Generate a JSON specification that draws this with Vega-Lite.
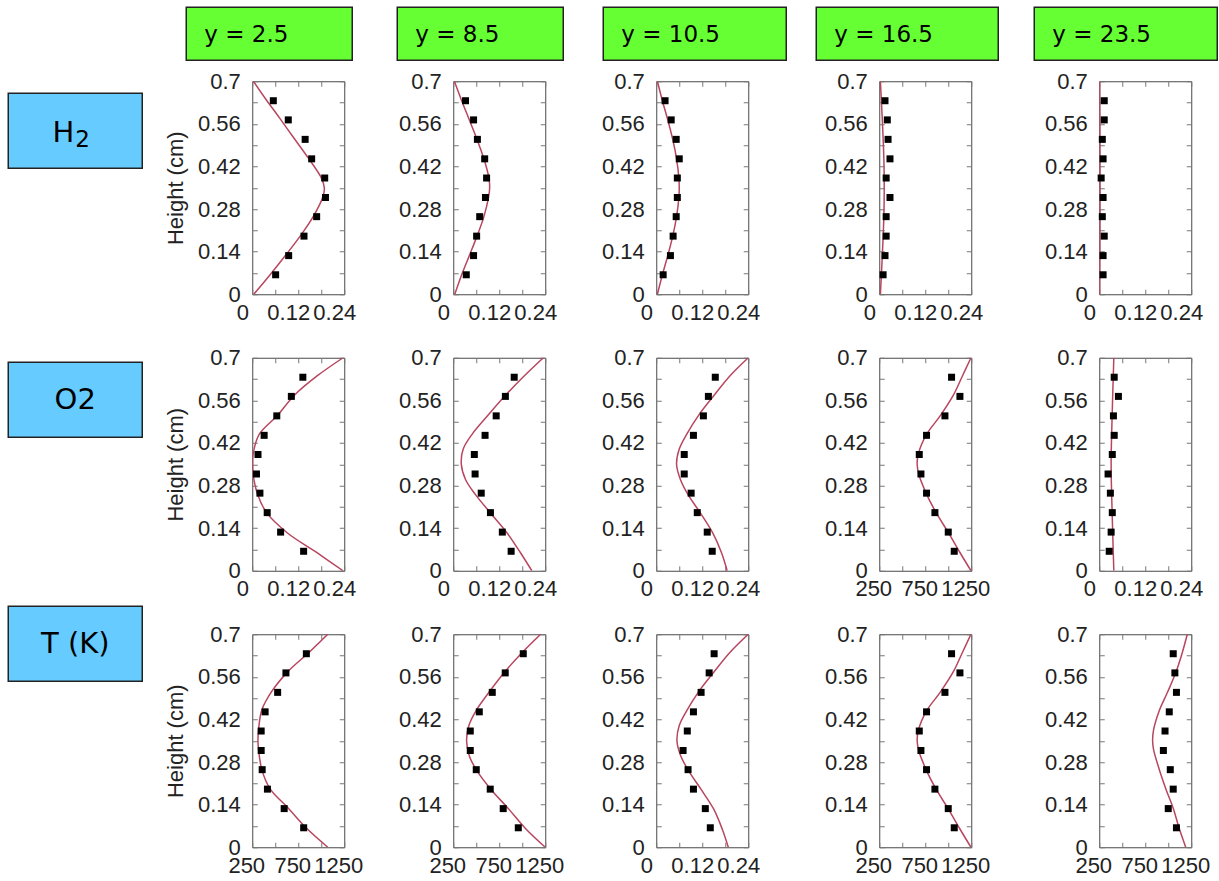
{
  "$schema": "https://vega.github.io/schema/vega-lite/v6.json",
  "padding": {"left": 7.25, "top": 6.25, "right": 0, "bottom": 0},
  "background": "white",
  "columns": 2,
  "align": "each",
  "bounds": "full",
  "spacing": 7,
  "datasets": {
    "sim": [
      {"p":"H2-2.5","h":0,"v":0.004},{"p":"H2-2.5","h":0.06,"v":0.044},{"p":"H2-2.5","h":0.128,"v":0.087},{"p":"H2-2.5","h":0.191,"v":0.125},{"p":"H2-2.5","h":0.255,"v":0.159},{"p":"H2-2.5","h":0.323,"v":0.185},{"p":"H2-2.5","h":0.35,"v":0.188},{"p":"H2-2.5","h":0.383,"v":0.18},{"p":"H2-2.5","h":0.448,"v":0.146},{"p":"H2-2.5","h":0.511,"v":0.11},{"p":"H2-2.5","h":0.578,"v":0.072},{"p":"H2-2.5","h":0.64,"v":0.036},{"p":"H2-2.5","h":0.7,"v":0.003},
      {"p":"H2-8.5","h":0,"v":0.004},{"p":"H2-8.5","h":0.064,"v":0.022},{"p":"H2-8.5","h":0.127,"v":0.042},{"p":"H2-8.5","h":0.191,"v":0.062},{"p":"H2-8.5","h":0.255,"v":0.08},{"p":"H2-8.5","h":0.318,"v":0.092},{"p":"H2-8.5","h":0.35,"v":0.095},{"p":"H2-8.5","h":0.382,"v":0.093},{"p":"H2-8.5","h":0.445,"v":0.08},{"p":"H2-8.5","h":0.509,"v":0.062},{"p":"H2-8.5","h":0.573,"v":0.042},{"p":"H2-8.5","h":0.636,"v":0.022},{"p":"H2-8.5","h":0.7,"v":0.003},
      {"p":"H2-10.5","h":0,"v":0.003},{"p":"H2-10.5","h":0.064,"v":0.016},{"p":"H2-10.5","h":0.127,"v":0.03},{"p":"H2-10.5","h":0.191,"v":0.043},{"p":"H2-10.5","h":0.255,"v":0.053},{"p":"H2-10.5","h":0.318,"v":0.059},{"p":"H2-10.5","h":0.35,"v":0.06},{"p":"H2-10.5","h":0.382,"v":0.059},{"p":"H2-10.5","h":0.445,"v":0.053},{"p":"H2-10.5","h":0.509,"v":0.043},{"p":"H2-10.5","h":0.573,"v":0.03},{"p":"H2-10.5","h":0.636,"v":0.016},{"p":"H2-10.5","h":0.7,"v":0.003},
      {"p":"H2-16.5","h":0,"v":0.003},{"p":"H2-16.5","h":0.127,"v":0.008},{"p":"H2-16.5","h":0.255,"v":0.012},{"p":"H2-16.5","h":0.35,"v":0.013},{"p":"H2-16.5","h":0.445,"v":0.012},{"p":"H2-16.5","h":0.573,"v":0.008},{"p":"H2-16.5","h":0.7,"v":0.003},
      {"p":"H2-23.5","h":0,"v":0.001},{"p":"H2-23.5","h":0.35,"v":0.002},{"p":"H2-23.5","h":0.7,"v":0.001},
      {"p":"O2-2.5","h":0,"v":0.237},{"p":"O2-2.5","h":0.06,"v":0.168},{"p":"O2-2.5","h":0.125,"v":0.091},{"p":"O2-2.5","h":0.19,"v":0.038},{"p":"O2-2.5","h":0.255,"v":0.013},{"p":"O2-2.5","h":0.32,"v":0.002},{"p":"O2-2.5","h":0.35,"v":0.001},{"p":"O2-2.5","h":0.382,"v":0.002},{"p":"O2-2.5","h":0.448,"v":0.018},{"p":"O2-2.5","h":0.511,"v":0.066},{"p":"O2-2.5","h":0.577,"v":0.11},{"p":"O2-2.5","h":0.641,"v":0.17},{"p":"O2-2.5","h":0.7,"v":0.237},
      {"p":"O2-8.5","h":0,"v":0.205},{"p":"O2-8.5","h":0.06,"v":0.175},{"p":"O2-8.5","h":0.125,"v":0.14},{"p":"O2-8.5","h":0.19,"v":0.097},{"p":"O2-8.5","h":0.25,"v":0.058},{"p":"O2-8.5","h":0.3,"v":0.032},{"p":"O2-8.5","h":0.35,"v":0.021},{"p":"O2-8.5","h":0.4,"v":0.026},{"p":"O2-8.5","h":0.45,"v":0.05},{"p":"O2-8.5","h":0.51,"v":0.09},{"p":"O2-8.5","h":0.575,"v":0.135},{"p":"O2-8.5","h":0.64,"v":0.185},{"p":"O2-8.5","h":0.7,"v":0.235},
      {"p":"O2-10.5","h":0,"v":0.185},{"p":"O2-10.5","h":0.06,"v":0.17},{"p":"O2-10.5","h":0.125,"v":0.147},{"p":"O2-10.5","h":0.19,"v":0.115},{"p":"O2-10.5","h":0.25,"v":0.083},{"p":"O2-10.5","h":0.3,"v":0.063},{"p":"O2-10.5","h":0.35,"v":0.053},{"p":"O2-10.5","h":0.4,"v":0.06},{"p":"O2-10.5","h":0.45,"v":0.08},{"p":"O2-10.5","h":0.51,"v":0.11},{"p":"O2-10.5","h":0.575,"v":0.15},{"p":"O2-10.5","h":0.64,"v":0.192},{"p":"O2-10.5","h":0.7,"v":0.24},
      {"p":"O2-16.5","h":0,"v":1247},{"p":"O2-16.5","h":0.06,"v":1127},{"p":"O2-16.5","h":0.126,"v":1000},{"p":"O2-16.5","h":0.19,"v":870},{"p":"O2-16.5","h":0.252,"v":764},{"p":"O2-16.5","h":0.317,"v":680},{"p":"O2-16.5","h":0.35,"v":662},{"p":"O2-16.5","h":0.383,"v":674},{"p":"O2-16.5","h":0.448,"v":764},{"p":"O2-16.5","h":0.508,"v":910},{"p":"O2-16.5","h":0.576,"v":1054},{"p":"O2-16.5","h":0.64,"v":1154},{"p":"O2-16.5","h":0.7,"v":1247},
      {"p":"O2-23.5","h":0,"v":0.038},{"p":"O2-23.5","h":0.175,"v":0.034},{"p":"O2-23.5","h":0.35,"v":0.031},{"p":"O2-23.5","h":0.525,"v":0.034},{"p":"O2-23.5","h":0.7,"v":0.038},
      {"p":"T-2.5","h":0,"v":1071},{"p":"T-2.5","h":0.063,"v":838},{"p":"T-2.5","h":0.129,"v":640},{"p":"T-2.5","h":0.192,"v":444},{"p":"T-2.5","h":0.255,"v":354},{"p":"T-2.5","h":0.323,"v":318},{"p":"T-2.5","h":0.35,"v":312},{"p":"T-2.5","h":0.385,"v":318},{"p":"T-2.5","h":0.451,"v":354},{"p":"T-2.5","h":0.512,"v":462},{"p":"T-2.5","h":0.578,"v":640},{"p":"T-2.5","h":0.64,"v":866},{"p":"T-2.5","h":0.7,"v":1071},
      {"p":"T-8.5","h":0,"v":1250},{"p":"T-8.5","h":0.06,"v":1040},{"p":"T-8.5","h":0.13,"v":840},{"p":"T-8.5","h":0.19,"v":660},{"p":"T-8.5","h":0.25,"v":510},{"p":"T-8.5","h":0.3,"v":425},{"p":"T-8.5","h":0.35,"v":395},{"p":"T-8.5","h":0.4,"v":420},{"p":"T-8.5","h":0.45,"v":500},{"p":"T-8.5","h":0.51,"v":640},{"p":"T-8.5","h":0.58,"v":820},{"p":"T-8.5","h":0.64,"v":1000},{"p":"T-8.5","h":0.7,"v":1200},
      {"p":"T-10.5","h":0,"v":0.188},{"p":"T-10.5","h":0.06,"v":0.172},{"p":"T-10.5","h":0.125,"v":0.15},{"p":"T-10.5","h":0.19,"v":0.117},{"p":"T-10.5","h":0.25,"v":0.085},{"p":"T-10.5","h":0.3,"v":0.064},{"p":"T-10.5","h":0.35,"v":0.054},{"p":"T-10.5","h":0.4,"v":0.06},{"p":"T-10.5","h":0.45,"v":0.08},{"p":"T-10.5","h":0.51,"v":0.11},{"p":"T-10.5","h":0.575,"v":0.15},{"p":"T-10.5","h":0.64,"v":0.192},{"p":"T-10.5","h":0.7,"v":0.24},
      {"p":"T-16.5","h":0,"v":1247},{"p":"T-16.5","h":0.06,"v":1127},{"p":"T-16.5","h":0.126,"v":1000},{"p":"T-16.5","h":0.19,"v":870},{"p":"T-16.5","h":0.252,"v":764},{"p":"T-16.5","h":0.317,"v":680},{"p":"T-16.5","h":0.35,"v":662},{"p":"T-16.5","h":0.383,"v":674},{"p":"T-16.5","h":0.448,"v":764},{"p":"T-16.5","h":0.508,"v":910},{"p":"T-16.5","h":0.576,"v":1054},{"p":"T-16.5","h":0.64,"v":1154},{"p":"T-16.5","h":0.7,"v":1247},
      {"p":"T-23.5","h":0,"v":1190},{"p":"T-23.5","h":0.063,"v":1118},{"p":"T-23.5","h":0.128,"v":1054},{"p":"T-23.5","h":0.191,"v":975},{"p":"T-23.5","h":0.254,"v":904},{"p":"T-23.5","h":0.322,"v":840},{"p":"T-23.5","h":0.35,"v":830},{"p":"T-23.5","h":0.385,"v":840},{"p":"T-23.5","h":0.45,"v":904},{"p":"T-23.5","h":0.51,"v":993},{"p":"T-23.5","h":0.575,"v":1083},{"p":"T-23.5","h":0.637,"v":1150},{"p":"T-23.5","h":0.7,"v":1207}
    ],
    "exp": [
      {"p":"H2-2.5","h":0.064,"v":0.061},{"p":"H2-2.5","h":0.127,"v":0.095},{"p":"H2-2.5","h":0.191,"v":0.135},{"p":"H2-2.5","h":0.255,"v":0.168},{"p":"H2-2.5","h":0.318,"v":0.191},{"p":"H2-2.5","h":0.382,"v":0.189},{"p":"H2-2.5","h":0.445,"v":0.155},{"p":"H2-2.5","h":0.509,"v":0.138},{"p":"H2-2.5","h":0.573,"v":0.094},{"p":"H2-2.5","h":0.636,"v":0.055},
      {"p":"H2-8.5","h":0.064,"v":0.034},{"p":"H2-8.5","h":0.127,"v":0.053},{"p":"H2-8.5","h":0.191,"v":0.061},{"p":"H2-8.5","h":0.255,"v":0.069},{"p":"H2-8.5","h":0.318,"v":0.084},{"p":"H2-8.5","h":0.382,"v":0.087},{"p":"H2-8.5","h":0.445,"v":0.082},{"p":"H2-8.5","h":0.509,"v":0.063},{"p":"H2-8.5","h":0.573,"v":0.053},{"p":"H2-8.5","h":0.636,"v":0.032},
      {"p":"H2-10.5","h":0.064,"v":0.018},{"p":"H2-10.5","h":0.127,"v":0.037},{"p":"H2-10.5","h":0.191,"v":0.044},{"p":"H2-10.5","h":0.255,"v":0.052},{"p":"H2-10.5","h":0.318,"v":0.055},{"p":"H2-10.5","h":0.382,"v":0.055},{"p":"H2-10.5","h":0.445,"v":0.06},{"p":"H2-10.5","h":0.509,"v":0.052},{"p":"H2-10.5","h":0.573,"v":0.039},{"p":"H2-10.5","h":0.636,"v":0.023},
      {"p":"H2-16.5","h":0.064,"v":0.01},{"p":"H2-16.5","h":0.127,"v":0.015},{"p":"H2-16.5","h":0.191,"v":0.018},{"p":"H2-16.5","h":0.255,"v":0.018},{"p":"H2-16.5","h":0.318,"v":0.028},{"p":"H2-16.5","h":0.382,"v":0.018},{"p":"H2-16.5","h":0.445,"v":0.028},{"p":"H2-16.5","h":0.509,"v":0.023},{"p":"H2-16.5","h":0.573,"v":0.021},{"p":"H2-16.5","h":0.636,"v":0.015},
      {"p":"H2-23.5","h":0.064,"v":0.01},{"p":"H2-23.5","h":0.127,"v":0.01},{"p":"H2-23.5","h":0.191,"v":0.013},{"p":"H2-23.5","h":0.255,"v":0.008},{"p":"H2-23.5","h":0.318,"v":0.01},{"p":"H2-23.5","h":0.382,"v":0.005},{"p":"H2-23.5","h":0.445,"v":0.01},{"p":"H2-23.5","h":0.509,"v":0.008},{"p":"H2-23.5","h":0.573,"v":0.013},{"p":"H2-23.5","h":0.636,"v":0.013},
      {"p":"O2-2.5","h":0.064,"v":0.134},{"p":"O2-2.5","h":0.127,"v":0.074},{"p":"O2-2.5","h":0.191,"v":0.039},{"p":"O2-2.5","h":0.255,"v":0.02},{"p":"O2-2.5","h":0.318,"v":0.011},{"p":"O2-2.5","h":0.382,"v":0.015},{"p":"O2-2.5","h":0.445,"v":0.031},{"p":"O2-2.5","h":0.509,"v":0.064},{"p":"O2-2.5","h":0.573,"v":0.102},{"p":"O2-2.5","h":0.636,"v":0.132},
      {"p":"O2-8.5","h":0.064,"v":0.151},{"p":"O2-8.5","h":0.127,"v":0.128},{"p":"O2-8.5","h":0.191,"v":0.097},{"p":"O2-8.5","h":0.255,"v":0.073},{"p":"O2-8.5","h":0.318,"v":0.057},{"p":"O2-8.5","h":0.382,"v":0.055},{"p":"O2-8.5","h":0.445,"v":0.083},{"p":"O2-8.5","h":0.509,"v":0.112},{"p":"O2-8.5","h":0.573,"v":0.136},{"p":"O2-8.5","h":0.636,"v":0.159},
      {"p":"O2-10.5","h":0.064,"v":0.146},{"p":"O2-10.5","h":0.127,"v":0.133},{"p":"O2-10.5","h":0.191,"v":0.107},{"p":"O2-10.5","h":0.255,"v":0.091},{"p":"O2-10.5","h":0.318,"v":0.073},{"p":"O2-10.5","h":0.382,"v":0.073},{"p":"O2-10.5","h":0.445,"v":0.097},{"p":"O2-10.5","h":0.509,"v":0.123},{"p":"O2-10.5","h":0.573,"v":0.136},{"p":"O2-10.5","h":0.636,"v":0.154},
      {"p":"O2-16.5","h":0.064,"v":1065},{"p":"O2-16.5","h":0.127,"v":1000},{"p":"O2-16.5","h":0.191,"v":855},{"p":"O2-16.5","h":0.255,"v":764},{"p":"O2-16.5","h":0.318,"v":703},{"p":"O2-16.5","h":0.382,"v":685},{"p":"O2-16.5","h":0.445,"v":764},{"p":"O2-16.5","h":0.509,"v":964},{"p":"O2-16.5","h":0.573,"v":1127},{"p":"O2-16.5","h":0.636,"v":1036},
      {"p":"O2-23.5","h":0.064,"v":0.026},{"p":"O2-23.5","h":0.127,"v":0.031},{"p":"O2-23.5","h":0.191,"v":0.034},{"p":"O2-23.5","h":0.255,"v":0.029},{"p":"O2-23.5","h":0.318,"v":0.023},{"p":"O2-23.5","h":0.382,"v":0.034},{"p":"O2-23.5","h":0.445,"v":0.039},{"p":"O2-23.5","h":0.509,"v":0.037},{"p":"O2-23.5","h":0.573,"v":0.05},{"p":"O2-23.5","h":0.636,"v":0.039},
      {"p":"T-2.5","h":0.064,"v":809},{"p":"T-2.5","h":0.127,"v":597},{"p":"T-2.5","h":0.191,"v":415},{"p":"T-2.5","h":0.255,"v":358},{"p":"T-2.5","h":0.318,"v":347},{"p":"T-2.5","h":0.382,"v":347},{"p":"T-2.5","h":0.445,"v":390},{"p":"T-2.5","h":0.509,"v":526},{"p":"T-2.5","h":0.573,"v":616},{"p":"T-2.5","h":0.636,"v":838},
      {"p":"T-8.5","h":0.064,"v":957},{"p":"T-8.5","h":0.127,"v":793},{"p":"T-8.5","h":0.191,"v":652},{"p":"T-8.5","h":0.255,"v":500},{"p":"T-8.5","h":0.318,"v":435},{"p":"T-8.5","h":0.382,"v":435},{"p":"T-8.5","h":0.445,"v":533},{"p":"T-8.5","h":0.509,"v":674},{"p":"T-8.5","h":0.573,"v":815},{"p":"T-8.5","h":0.636,"v":1011},
      {"p":"T-10.5","h":0.064,"v":0.141},{"p":"T-10.5","h":0.127,"v":0.128},{"p":"T-10.5","h":0.191,"v":0.097},{"p":"T-10.5","h":0.255,"v":0.083},{"p":"T-10.5","h":0.318,"v":0.07},{"p":"T-10.5","h":0.382,"v":0.081},{"p":"T-10.5","h":0.445,"v":0.097},{"p":"T-10.5","h":0.509,"v":0.117},{"p":"T-10.5","h":0.573,"v":0.138},{"p":"T-10.5","h":0.636,"v":0.151},
      {"p":"T-16.5","h":0.064,"v":1065},{"p":"T-16.5","h":0.127,"v":1000},{"p":"T-16.5","h":0.191,"v":855},{"p":"T-16.5","h":0.255,"v":764},{"p":"T-16.5","h":0.318,"v":703},{"p":"T-16.5","h":0.382,"v":685},{"p":"T-16.5","h":0.445,"v":764},{"p":"T-16.5","h":0.509,"v":964},{"p":"T-16.5","h":0.573,"v":1127},{"p":"T-16.5","h":0.636,"v":1036},
      {"p":"T-23.5","h":0.064,"v":1089},{"p":"T-23.5","h":0.127,"v":1000},{"p":"T-23.5","h":0.191,"v":1054},{"p":"T-23.5","h":0.255,"v":1022},{"p":"T-23.5","h":0.318,"v":947},{"p":"T-23.5","h":0.382,"v":965},{"p":"T-23.5","h":0.445,"v":1011},{"p":"T-23.5","h":0.509,"v":1089},{"p":"T-23.5","h":0.573,"v":1072},{"p":"T-23.5","h":0.636,"v":1054}
    ]
  },
  "concat": [
    {
      "columns": 1, "align": "each", "bounds": "flush", "spacing": 0,
      "concat": [
        {"width":1,"height":86,"data":{"values":[]},"mark":"text","view":{"stroke":null}},
        {"width":134,"height":75,"view":{"fill":"#66ccff","stroke":"#222","strokeWidth":1.5},"data":{"values":[{"a":"H","b":"2"}]},"layer":[{"mark":{"type":"text","font":"DejaVu Sans","fontSize":29,"align":"right","baseline":"alphabetic","dx":-1,"dy":11,"color":"#000"},"encoding":{"text":{"field":"a"}}},{"mark":{"type":"text","font":"DejaVu Sans","fontSize":23,"align":"left","baseline":"alphabetic","dx":0,"dy":16,"color":"#000"},"encoding":{"text":{"field":"b"}}}]},
        {"width":1,"height":194,"data":{"values":[]},"mark":"text","view":{"stroke":null}},
        {"width":134,"height":75,"view":{"fill":"#66ccff","stroke":"#222","strokeWidth":1.5},"data":{"values":[{"t":"O2"}]},"mark":{"type":"text","font":"DejaVu Sans","fontSize":29,"baseline":"middle","color":"#000"},"encoding":{"text":{"field":"t"}}},
        {"width":1,"height":169,"data":{"values":[]},"mark":"text","view":{"stroke":null}},
        {"width":134,"height":75,"view":{"fill":"#66ccff","stroke":"#222","strokeWidth":1.5},"data":{"values":[{"t":"T (K)"}]},"mark":{"type":"text","font":"DejaVu Sans","fontSize":29,"baseline":"middle","color":"#000"},"encoding":{"text":{"field":"t"}}}
      ]
    },
    {
      "columns": 1, "align": "each", "bounds": "full", "spacing": 8,
      "concat": [
        {
          "columns": 10, "align": "each", "bounds": "flush", "spacing": 0,
          "concat": [
            {"width":36,"height":1,"data":{"values":[]},"mark":"text","view":{"stroke":null}},
            {"width":166,"height":53,"view":{"fill":"#66ff33","stroke":"#222","strokeWidth":1.5},"data":{"values":[{"t":"y = 2.5"}]},"mark":{"type":"text","font":"DejaVu Sans","fontSize":23,"align":"left","baseline":"middle","dx":18,"dy":1,"color":"#000"},"encoding":{"text":{"field":"t"},"x":{"datum":0,"type":"quantitative","scale":{"domain":[0,1]},"axis":null}}},
            {"width":45,"height":1,"data":{"values":[]},"mark":"text","view":{"stroke":null}},
            {"width":166,"height":53,"view":{"fill":"#66ff33","stroke":"#222","strokeWidth":1.5},"data":{"values":[{"t":"y = 8.5"}]},"mark":{"type":"text","font":"DejaVu Sans","fontSize":23,"align":"left","baseline":"middle","dx":18,"dy":1,"color":"#000"},"encoding":{"text":{"field":"t"},"x":{"datum":0,"type":"quantitative","scale":{"domain":[0,1]},"axis":null}}},
            {"width":40,"height":1,"data":{"values":[]},"mark":"text","view":{"stroke":null}},
            {"width":183,"height":53,"view":{"fill":"#66ff33","stroke":"#222","strokeWidth":1.5},"data":{"values":[{"t":"y = 10.5"}]},"mark":{"type":"text","font":"DejaVu Sans","fontSize":23,"align":"left","baseline":"middle","dx":18,"dy":1,"color":"#000"},"encoding":{"text":{"field":"t"},"x":{"datum":0,"type":"quantitative","scale":{"domain":[0,1]},"axis":null}}},
            {"width":30,"height":1,"data":{"values":[]},"mark":"text","view":{"stroke":null}},
            {"width":182,"height":53,"view":{"fill":"#66ff33","stroke":"#222","strokeWidth":1.5},"data":{"values":[{"t":"y = 16.5"}]},"mark":{"type":"text","font":"DejaVu Sans","fontSize":23,"align":"left","baseline":"middle","dx":18,"dy":1,"color":"#000"},"encoding":{"text":{"field":"t"},"x":{"datum":0,"type":"quantitative","scale":{"domain":[0,1]},"axis":null}}},
            {"width":36,"height":1,"data":{"values":[]},"mark":"text","view":{"stroke":null}},
            {"width":183,"height":53,"view":{"fill":"#66ff33","stroke":"#222","strokeWidth":1.5},"data":{"values":[{"t":"y = 23.5"}]},"mark":{"type":"text","font":"DejaVu Sans","fontSize":23,"align":"left","baseline":"middle","dx":18,"dy":1,"color":"#000"},"encoding":{"text":{"field":"t"},"x":{"datum":0,"type":"quantitative","scale":{"domain":[0,1]},"axis":null}}}
          ]
        },
        {
          "columns": 10, "align": "each", "bounds": "flush", "spacing": {"row": 63.5, "column": 0},
          "concat": [
            {"width":102,"height":1,"data":{"values":[]},"mark":"text","view":{"stroke":null}},
            {"width":92,"height":213,"layer":[{"data":{"name":"sim"},"transform":[{"filter":"datum.p=='H2-2.5'"}],"mark":{"type":"line","color":"#b8465f","strokeWidth":1.5,"interpolate":"catmull-rom","clip":true},"encoding":{"x":{"field":"v","type":"quantitative","scale":{"domain":[0,0.24],"nice":false,"zero":false},"axis":{"title":null,"values":[0,0.06,0.12,0.18,0.24],"labelExpr":"round(datum.value*100)%12==0 ? format(datum.value,'~g') : ''","labelOffset":-10}},"y":{"field":"h","type":"quantitative","scale":{"domain":[0,0.7],"nice":false},"axis":{"title":"Height (cm)","titleX":-77,"titleY":106.5,"titleAngle":-90,"titleAlign":"center","titleBaseline":"middle","values":[0,0.07,0.14,0.21,0.28,0.35,0.42,0.49,0.56,0.63,0.7],"labelExpr":"round(datum.value*100)%14==0 ? format(datum.value,'~g') : ''"}},"order":{"field":"h","type":"quantitative"}}},{"data":{"name":"exp"},"transform":[{"filter":"datum.p=='H2-2.5'"}],"mark":{"type":"square","color":"#000","opacity":1,"size":49},"encoding":{"x":{"field":"v","type":"quantitative","scale":{"domain":[0,0.24],"nice":false,"zero":false},"axis":{"orient":"top","title":null,"values":[0,0.06,0.12,0.18,0.24]}},"y":{"field":"h","type":"quantitative","scale":{"domain":[0,0.7],"nice":false},"axis":{"orient":"right","title":null,"values":[0,0.07,0.14,0.21,0.28,0.35,0.42,0.49,0.56,0.63,0.7]}}}}],"resolve":{"axis":{"x":"independent","y":"independent"}}},
            {"width":109,"height":1,"data":{"values":[]},"mark":"text","view":{"stroke":null}},
            {"width":92,"height":213,"layer":[{"data":{"name":"sim"},"transform":[{"filter":"datum.p=='H2-8.5'"}],"mark":{"type":"line","color":"#b8465f","strokeWidth":1.5,"interpolate":"catmull-rom","clip":true},"encoding":{"x":{"field":"v","type":"quantitative","scale":{"domain":[0,0.24],"nice":false,"zero":false},"axis":{"title":null,"values":[0,0.06,0.12,0.18,0.24],"labelExpr":"round(datum.value*100)%12==0 ? format(datum.value,'~g') : ''","labelOffset":-10}},"y":{"field":"h","type":"quantitative","scale":{"domain":[0,0.7],"nice":false},"axis":{"title":null,"values":[0,0.07,0.14,0.21,0.28,0.35,0.42,0.49,0.56,0.63,0.7],"labelExpr":"round(datum.value*100)%14==0 ? format(datum.value,'~g') : ''"}},"order":{"field":"h","type":"quantitative"}}},{"data":{"name":"exp"},"transform":[{"filter":"datum.p=='H2-8.5'"}],"mark":{"type":"square","color":"#000","opacity":1,"size":49},"encoding":{"x":{"field":"v","type":"quantitative","scale":{"domain":[0,0.24],"nice":false,"zero":false},"axis":{"orient":"top","title":null,"values":[0,0.06,0.12,0.18,0.24]}},"y":{"field":"h","type":"quantitative","scale":{"domain":[0,0.7],"nice":false},"axis":{"orient":"right","title":null,"values":[0,0.07,0.14,0.21,0.28,0.35,0.42,0.49,0.56,0.63,0.7]}}}}],"resolve":{"axis":{"x":"independent","y":"independent"}}},
            {"width":111,"height":1,"data":{"values":[]},"mark":"text","view":{"stroke":null}},
            {"width":92,"height":213,"layer":[{"data":{"name":"sim"},"transform":[{"filter":"datum.p=='H2-10.5'"}],"mark":{"type":"line","color":"#b8465f","strokeWidth":1.5,"interpolate":"catmull-rom","clip":true},"encoding":{"x":{"field":"v","type":"quantitative","scale":{"domain":[0,0.24],"nice":false,"zero":false},"axis":{"title":null,"values":[0,0.06,0.12,0.18,0.24],"labelExpr":"round(datum.value*100)%12==0 ? format(datum.value,'~g') : ''","labelOffset":-10}},"y":{"field":"h","type":"quantitative","scale":{"domain":[0,0.7],"nice":false},"axis":{"title":null,"values":[0,0.07,0.14,0.21,0.28,0.35,0.42,0.49,0.56,0.63,0.7],"labelExpr":"round(datum.value*100)%14==0 ? format(datum.value,'~g') : ''"}},"order":{"field":"h","type":"quantitative"}}},{"data":{"name":"exp"},"transform":[{"filter":"datum.p=='H2-10.5'"}],"mark":{"type":"square","color":"#000","opacity":1,"size":49},"encoding":{"x":{"field":"v","type":"quantitative","scale":{"domain":[0,0.24],"nice":false,"zero":false},"axis":{"orient":"top","title":null,"values":[0,0.06,0.12,0.18,0.24]}},"y":{"field":"h","type":"quantitative","scale":{"domain":[0,0.7],"nice":false},"axis":{"orient":"right","title":null,"values":[0,0.07,0.14,0.21,0.28,0.35,0.42,0.49,0.56,0.63,0.7]}}}}],"resolve":{"axis":{"x":"independent","y":"independent"}}},
            {"width":131,"height":1,"data":{"values":[]},"mark":"text","view":{"stroke":null}},
            {"width":92,"height":213,"layer":[{"data":{"name":"sim"},"transform":[{"filter":"datum.p=='H2-16.5'"}],"mark":{"type":"line","color":"#b8465f","strokeWidth":1.5,"interpolate":"catmull-rom","clip":true},"encoding":{"x":{"field":"v","type":"quantitative","scale":{"domain":[0,0.24],"nice":false,"zero":false},"axis":{"title":null,"values":[0,0.06,0.12,0.18,0.24],"labelExpr":"round(datum.value*100)%12==0 ? format(datum.value,'~g') : ''","labelOffset":-10}},"y":{"field":"h","type":"quantitative","scale":{"domain":[0,0.7],"nice":false},"axis":{"title":null,"values":[0,0.07,0.14,0.21,0.28,0.35,0.42,0.49,0.56,0.63,0.7],"labelExpr":"round(datum.value*100)%14==0 ? format(datum.value,'~g') : ''"}},"order":{"field":"h","type":"quantitative"}}},{"data":{"name":"exp"},"transform":[{"filter":"datum.p=='H2-16.5'"}],"mark":{"type":"square","color":"#000","opacity":1,"size":49},"encoding":{"x":{"field":"v","type":"quantitative","scale":{"domain":[0,0.24],"nice":false,"zero":false},"axis":{"orient":"top","title":null,"values":[0,0.06,0.12,0.18,0.24]}},"y":{"field":"h","type":"quantitative","scale":{"domain":[0,0.7],"nice":false},"axis":{"orient":"right","title":null,"values":[0,0.07,0.14,0.21,0.28,0.35,0.42,0.49,0.56,0.63,0.7]}}}}],"resolve":{"axis":{"x":"independent","y":"independent"}}},
            {"width":128,"height":1,"data":{"values":[]},"mark":"text","view":{"stroke":null}},
            {"width":92,"height":213,"layer":[{"data":{"name":"sim"},"transform":[{"filter":"datum.p=='H2-23.5'"}],"mark":{"type":"line","color":"#b8465f","strokeWidth":1.5,"interpolate":"catmull-rom","clip":true},"encoding":{"x":{"field":"v","type":"quantitative","scale":{"domain":[0,0.24],"nice":false,"zero":false},"axis":{"title":null,"values":[0,0.06,0.12,0.18,0.24],"labelExpr":"round(datum.value*100)%12==0 ? format(datum.value,'~g') : ''","labelOffset":-10}},"y":{"field":"h","type":"quantitative","scale":{"domain":[0,0.7],"nice":false},"axis":{"title":null,"values":[0,0.07,0.14,0.21,0.28,0.35,0.42,0.49,0.56,0.63,0.7],"labelExpr":"round(datum.value*100)%14==0 ? format(datum.value,'~g') : ''"}},"order":{"field":"h","type":"quantitative"}}},{"data":{"name":"exp"},"transform":[{"filter":"datum.p=='H2-23.5'"}],"mark":{"type":"square","color":"#000","opacity":1,"size":49},"encoding":{"x":{"field":"v","type":"quantitative","scale":{"domain":[0,0.24],"nice":false,"zero":false},"axis":{"orient":"top","title":null,"values":[0,0.06,0.12,0.18,0.24]}},"y":{"field":"h","type":"quantitative","scale":{"domain":[0,0.7],"nice":false},"axis":{"orient":"right","title":null,"values":[0,0.07,0.14,0.21,0.28,0.35,0.42,0.49,0.56,0.63,0.7]}}}}],"resolve":{"axis":{"x":"independent","y":"independent"}}},

            {"width":102,"height":1,"data":{"values":[]},"mark":"text","view":{"stroke":null}},
            {"width":92,"height":213,"layer":[{"data":{"name":"sim"},"transform":[{"filter":"datum.p=='O2-2.5'"}],"mark":{"type":"line","color":"#b8465f","strokeWidth":1.5,"interpolate":"catmull-rom","clip":true},"encoding":{"x":{"field":"v","type":"quantitative","scale":{"domain":[0,0.24],"nice":false,"zero":false},"axis":{"title":null,"values":[0,0.06,0.12,0.18,0.24],"labelExpr":"round(datum.value*100)%12==0 ? format(datum.value,'~g') : ''","labelOffset":-10}},"y":{"field":"h","type":"quantitative","scale":{"domain":[0,0.7],"nice":false},"axis":{"title":"Height (cm)","titleX":-77,"titleY":106.5,"titleAngle":-90,"titleAlign":"center","titleBaseline":"middle","values":[0,0.07,0.14,0.21,0.28,0.35,0.42,0.49,0.56,0.63,0.7],"labelExpr":"round(datum.value*100)%14==0 ? format(datum.value,'~g') : ''"}},"order":{"field":"h","type":"quantitative"}}},{"data":{"name":"exp"},"transform":[{"filter":"datum.p=='O2-2.5'"}],"mark":{"type":"square","color":"#000","opacity":1,"size":49},"encoding":{"x":{"field":"v","type":"quantitative","scale":{"domain":[0,0.24],"nice":false,"zero":false},"axis":{"orient":"top","title":null,"values":[0,0.06,0.12,0.18,0.24]}},"y":{"field":"h","type":"quantitative","scale":{"domain":[0,0.7],"nice":false},"axis":{"orient":"right","title":null,"values":[0,0.07,0.14,0.21,0.28,0.35,0.42,0.49,0.56,0.63,0.7]}}}}],"resolve":{"axis":{"x":"independent","y":"independent"}}},
            {"width":109,"height":1,"data":{"values":[]},"mark":"text","view":{"stroke":null}},
            {"width":92,"height":213,"layer":[{"data":{"name":"sim"},"transform":[{"filter":"datum.p=='O2-8.5'"}],"mark":{"type":"line","color":"#b8465f","strokeWidth":1.5,"interpolate":"catmull-rom","clip":true},"encoding":{"x":{"field":"v","type":"quantitative","scale":{"domain":[0,0.24],"nice":false,"zero":false},"axis":{"title":null,"values":[0,0.06,0.12,0.18,0.24],"labelExpr":"round(datum.value*100)%12==0 ? format(datum.value,'~g') : ''","labelOffset":-10}},"y":{"field":"h","type":"quantitative","scale":{"domain":[0,0.7],"nice":false},"axis":{"title":null,"values":[0,0.07,0.14,0.21,0.28,0.35,0.42,0.49,0.56,0.63,0.7],"labelExpr":"round(datum.value*100)%14==0 ? format(datum.value,'~g') : ''"}},"order":{"field":"h","type":"quantitative"}}},{"data":{"name":"exp"},"transform":[{"filter":"datum.p=='O2-8.5'"}],"mark":{"type":"square","color":"#000","opacity":1,"size":49},"encoding":{"x":{"field":"v","type":"quantitative","scale":{"domain":[0,0.24],"nice":false,"zero":false},"axis":{"orient":"top","title":null,"values":[0,0.06,0.12,0.18,0.24]}},"y":{"field":"h","type":"quantitative","scale":{"domain":[0,0.7],"nice":false},"axis":{"orient":"right","title":null,"values":[0,0.07,0.14,0.21,0.28,0.35,0.42,0.49,0.56,0.63,0.7]}}}}],"resolve":{"axis":{"x":"independent","y":"independent"}}},
            {"width":111,"height":1,"data":{"values":[]},"mark":"text","view":{"stroke":null}},
            {"width":92,"height":213,"layer":[{"data":{"name":"sim"},"transform":[{"filter":"datum.p=='O2-10.5'"}],"mark":{"type":"line","color":"#b8465f","strokeWidth":1.5,"interpolate":"catmull-rom","clip":true},"encoding":{"x":{"field":"v","type":"quantitative","scale":{"domain":[0,0.24],"nice":false,"zero":false},"axis":{"title":null,"values":[0,0.06,0.12,0.18,0.24],"labelExpr":"round(datum.value*100)%12==0 ? format(datum.value,'~g') : ''","labelOffset":-10}},"y":{"field":"h","type":"quantitative","scale":{"domain":[0,0.7],"nice":false},"axis":{"title":null,"values":[0,0.07,0.14,0.21,0.28,0.35,0.42,0.49,0.56,0.63,0.7],"labelExpr":"round(datum.value*100)%14==0 ? format(datum.value,'~g') : ''"}},"order":{"field":"h","type":"quantitative"}}},{"data":{"name":"exp"},"transform":[{"filter":"datum.p=='O2-10.5'"}],"mark":{"type":"square","color":"#000","opacity":1,"size":49},"encoding":{"x":{"field":"v","type":"quantitative","scale":{"domain":[0,0.24],"nice":false,"zero":false},"axis":{"orient":"top","title":null,"values":[0,0.06,0.12,0.18,0.24]}},"y":{"field":"h","type":"quantitative","scale":{"domain":[0,0.7],"nice":false},"axis":{"orient":"right","title":null,"values":[0,0.07,0.14,0.21,0.28,0.35,0.42,0.49,0.56,0.63,0.7]}}}}],"resolve":{"axis":{"x":"independent","y":"independent"}}},
            {"width":131,"height":1,"data":{"values":[]},"mark":"text","view":{"stroke":null}},
            {"width":92,"height":213,"layer":[{"data":{"name":"sim"},"transform":[{"filter":"datum.p=='O2-16.5'"}],"mark":{"type":"line","color":"#b8465f","strokeWidth":1.5,"interpolate":"catmull-rom","clip":true},"encoding":{"x":{"field":"v","type":"quantitative","scale":{"domain":[250,1250],"nice":false,"zero":false},"axis":{"title":null,"values":[250,500,750,1000,1250],"labelExpr":"datum.value%500==250 ? format(datum.value,'~g') : ''","labelOffset":-6}},"y":{"field":"h","type":"quantitative","scale":{"domain":[0,0.7],"nice":false},"axis":{"title":null,"values":[0,0.07,0.14,0.21,0.28,0.35,0.42,0.49,0.56,0.63,0.7],"labelExpr":"round(datum.value*100)%14==0 ? format(datum.value,'~g') : ''"}},"order":{"field":"h","type":"quantitative"}}},{"data":{"name":"exp"},"transform":[{"filter":"datum.p=='O2-16.5'"}],"mark":{"type":"square","color":"#000","opacity":1,"size":49},"encoding":{"x":{"field":"v","type":"quantitative","scale":{"domain":[250,1250],"nice":false,"zero":false},"axis":{"orient":"top","title":null,"values":[250,500,750,1000,1250]}},"y":{"field":"h","type":"quantitative","scale":{"domain":[0,0.7],"nice":false},"axis":{"orient":"right","title":null,"values":[0,0.07,0.14,0.21,0.28,0.35,0.42,0.49,0.56,0.63,0.7]}}}}],"resolve":{"axis":{"x":"independent","y":"independent"}}},
            {"width":128,"height":1,"data":{"values":[]},"mark":"text","view":{"stroke":null}},
            {"width":92,"height":213,"layer":[{"data":{"name":"sim"},"transform":[{"filter":"datum.p=='O2-23.5'"}],"mark":{"type":"line","color":"#b8465f","strokeWidth":1.5,"interpolate":"catmull-rom","clip":true},"encoding":{"x":{"field":"v","type":"quantitative","scale":{"domain":[0,0.24],"nice":false,"zero":false},"axis":{"title":null,"values":[0,0.06,0.12,0.18,0.24],"labelExpr":"round(datum.value*100)%12==0 ? format(datum.value,'~g') : ''","labelOffset":-10}},"y":{"field":"h","type":"quantitative","scale":{"domain":[0,0.7],"nice":false},"axis":{"title":null,"values":[0,0.07,0.14,0.21,0.28,0.35,0.42,0.49,0.56,0.63,0.7],"labelExpr":"round(datum.value*100)%14==0 ? format(datum.value,'~g') : ''"}},"order":{"field":"h","type":"quantitative"}}},{"data":{"name":"exp"},"transform":[{"filter":"datum.p=='O2-23.5'"}],"mark":{"type":"square","color":"#000","opacity":1,"size":49},"encoding":{"x":{"field":"v","type":"quantitative","scale":{"domain":[0,0.24],"nice":false,"zero":false},"axis":{"orient":"top","title":null,"values":[0,0.06,0.12,0.18,0.24]}},"y":{"field":"h","type":"quantitative","scale":{"domain":[0,0.7],"nice":false},"axis":{"orient":"right","title":null,"values":[0,0.07,0.14,0.21,0.28,0.35,0.42,0.49,0.56,0.63,0.7]}}}}],"resolve":{"axis":{"x":"independent","y":"independent"}}},

            {"width":102,"height":1,"data":{"values":[]},"mark":"text","view":{"stroke":null}},
            {"width":92,"height":213,"layer":[{"data":{"name":"sim"},"transform":[{"filter":"datum.p=='T-2.5'"}],"mark":{"type":"line","color":"#b8465f","strokeWidth":1.5,"interpolate":"catmull-rom","clip":true},"encoding":{"x":{"field":"v","type":"quantitative","scale":{"domain":[250,1250],"nice":false,"zero":false},"axis":{"title":null,"values":[250,500,750,1000,1250],"labelExpr":"datum.value%500==250 ? format(datum.value,'~g') : ''","labelOffset":-6}},"y":{"field":"h","type":"quantitative","scale":{"domain":[0,0.7],"nice":false},"axis":{"title":"Height (cm)","titleX":-77,"titleY":106.5,"titleAngle":-90,"titleAlign":"center","titleBaseline":"middle","values":[0,0.07,0.14,0.21,0.28,0.35,0.42,0.49,0.56,0.63,0.7],"labelExpr":"round(datum.value*100)%14==0 ? format(datum.value,'~g') : ''"}},"order":{"field":"h","type":"quantitative"}}},{"data":{"name":"exp"},"transform":[{"filter":"datum.p=='T-2.5'"}],"mark":{"type":"square","color":"#000","opacity":1,"size":49},"encoding":{"x":{"field":"v","type":"quantitative","scale":{"domain":[250,1250],"nice":false,"zero":false},"axis":{"orient":"top","title":null,"values":[250,500,750,1000,1250]}},"y":{"field":"h","type":"quantitative","scale":{"domain":[0,0.7],"nice":false},"axis":{"orient":"right","title":null,"values":[0,0.07,0.14,0.21,0.28,0.35,0.42,0.49,0.56,0.63,0.7]}}}}],"resolve":{"axis":{"x":"independent","y":"independent"}}},
            {"width":109,"height":1,"data":{"values":[]},"mark":"text","view":{"stroke":null}},
            {"width":92,"height":213,"layer":[{"data":{"name":"sim"},"transform":[{"filter":"datum.p=='T-8.5'"}],"mark":{"type":"line","color":"#b8465f","strokeWidth":1.5,"interpolate":"catmull-rom","clip":true},"encoding":{"x":{"field":"v","type":"quantitative","scale":{"domain":[250,1250],"nice":false,"zero":false},"axis":{"title":null,"values":[250,500,750,1000,1250],"labelExpr":"datum.value%500==250 ? format(datum.value,'~g') : ''","labelOffset":-6}},"y":{"field":"h","type":"quantitative","scale":{"domain":[0,0.7],"nice":false},"axis":{"title":null,"values":[0,0.07,0.14,0.21,0.28,0.35,0.42,0.49,0.56,0.63,0.7],"labelExpr":"round(datum.value*100)%14==0 ? format(datum.value,'~g') : ''"}},"order":{"field":"h","type":"quantitative"}}},{"data":{"name":"exp"},"transform":[{"filter":"datum.p=='T-8.5'"}],"mark":{"type":"square","color":"#000","opacity":1,"size":49},"encoding":{"x":{"field":"v","type":"quantitative","scale":{"domain":[250,1250],"nice":false,"zero":false},"axis":{"orient":"top","title":null,"values":[250,500,750,1000,1250]}},"y":{"field":"h","type":"quantitative","scale":{"domain":[0,0.7],"nice":false},"axis":{"orient":"right","title":null,"values":[0,0.07,0.14,0.21,0.28,0.35,0.42,0.49,0.56,0.63,0.7]}}}}],"resolve":{"axis":{"x":"independent","y":"independent"}}},
            {"width":111,"height":1,"data":{"values":[]},"mark":"text","view":{"stroke":null}},
            {"width":92,"height":213,"layer":[{"data":{"name":"sim"},"transform":[{"filter":"datum.p=='T-10.5'"}],"mark":{"type":"line","color":"#b8465f","strokeWidth":1.5,"interpolate":"catmull-rom","clip":true},"encoding":{"x":{"field":"v","type":"quantitative","scale":{"domain":[0,0.24],"nice":false,"zero":false},"axis":{"title":null,"values":[0,0.06,0.12,0.18,0.24],"labelExpr":"round(datum.value*100)%12==0 ? format(datum.value,'~g') : ''","labelOffset":-10}},"y":{"field":"h","type":"quantitative","scale":{"domain":[0,0.7],"nice":false},"axis":{"title":null,"values":[0,0.07,0.14,0.21,0.28,0.35,0.42,0.49,0.56,0.63,0.7],"labelExpr":"round(datum.value*100)%14==0 ? format(datum.value,'~g') : ''"}},"order":{"field":"h","type":"quantitative"}}},{"data":{"name":"exp"},"transform":[{"filter":"datum.p=='T-10.5'"}],"mark":{"type":"square","color":"#000","opacity":1,"size":49},"encoding":{"x":{"field":"v","type":"quantitative","scale":{"domain":[0,0.24],"nice":false,"zero":false},"axis":{"orient":"top","title":null,"values":[0,0.06,0.12,0.18,0.24]}},"y":{"field":"h","type":"quantitative","scale":{"domain":[0,0.7],"nice":false},"axis":{"orient":"right","title":null,"values":[0,0.07,0.14,0.21,0.28,0.35,0.42,0.49,0.56,0.63,0.7]}}}}],"resolve":{"axis":{"x":"independent","y":"independent"}}},
            {"width":131,"height":1,"data":{"values":[]},"mark":"text","view":{"stroke":null}},
            {"width":92,"height":213,"layer":[{"data":{"name":"sim"},"transform":[{"filter":"datum.p=='T-16.5'"}],"mark":{"type":"line","color":"#b8465f","strokeWidth":1.5,"interpolate":"catmull-rom","clip":true},"encoding":{"x":{"field":"v","type":"quantitative","scale":{"domain":[250,1250],"nice":false,"zero":false},"axis":{"title":null,"values":[250,500,750,1000,1250],"labelExpr":"datum.value%500==250 ? format(datum.value,'~g') : ''","labelOffset":-6}},"y":{"field":"h","type":"quantitative","scale":{"domain":[0,0.7],"nice":false},"axis":{"title":null,"values":[0,0.07,0.14,0.21,0.28,0.35,0.42,0.49,0.56,0.63,0.7],"labelExpr":"round(datum.value*100)%14==0 ? format(datum.value,'~g') : ''"}},"order":{"field":"h","type":"quantitative"}}},{"data":{"name":"exp"},"transform":[{"filter":"datum.p=='T-16.5'"}],"mark":{"type":"square","color":"#000","opacity":1,"size":49},"encoding":{"x":{"field":"v","type":"quantitative","scale":{"domain":[250,1250],"nice":false,"zero":false},"axis":{"orient":"top","title":null,"values":[250,500,750,1000,1250]}},"y":{"field":"h","type":"quantitative","scale":{"domain":[0,0.7],"nice":false},"axis":{"orient":"right","title":null,"values":[0,0.07,0.14,0.21,0.28,0.35,0.42,0.49,0.56,0.63,0.7]}}}}],"resolve":{"axis":{"x":"independent","y":"independent"}}},
            {"width":128,"height":1,"data":{"values":[]},"mark":"text","view":{"stroke":null}},
            {"width":92,"height":213,"layer":[{"data":{"name":"sim"},"transform":[{"filter":"datum.p=='T-23.5'"}],"mark":{"type":"line","color":"#b8465f","strokeWidth":1.5,"interpolate":"catmull-rom","clip":true},"encoding":{"x":{"field":"v","type":"quantitative","scale":{"domain":[250,1250],"nice":false,"zero":false},"axis":{"title":null,"values":[250,500,750,1000,1250],"labelExpr":"datum.value%500==250 ? format(datum.value,'~g') : ''","labelOffset":-6}},"y":{"field":"h","type":"quantitative","scale":{"domain":[0,0.7],"nice":false},"axis":{"title":null,"values":[0,0.07,0.14,0.21,0.28,0.35,0.42,0.49,0.56,0.63,0.7],"labelExpr":"round(datum.value*100)%14==0 ? format(datum.value,'~g') : ''"}},"order":{"field":"h","type":"quantitative"}}},{"data":{"name":"exp"},"transform":[{"filter":"datum.p=='T-23.5'"}],"mark":{"type":"square","color":"#000","opacity":1,"size":49},"encoding":{"x":{"field":"v","type":"quantitative","scale":{"domain":[250,1250],"nice":false,"zero":false},"axis":{"orient":"top","title":null,"values":[250,500,750,1000,1250]}},"y":{"field":"h","type":"quantitative","scale":{"domain":[0,0.7],"nice":false},"axis":{"orient":"right","title":null,"values":[0,0.07,0.14,0.21,0.28,0.35,0.42,0.49,0.56,0.63,0.7]}}}}],"resolve":{"axis":{"x":"independent","y":"independent"}}}
          ]
        }
      ]
    }
  ],
  "config": {
    "view": {"stroke": "#4a4a4a", "strokeWidth": 1},
    "axis": {"domain": false, "grid": false, "tickSize": -5, "tickColor": "#777", "tickWidth": 1, "labelFont": "Liberation Sans", "labelFontSize": 22, "labelColor": "#222", "labelOverlap": false, "labelFlush": false, "titleFont": "Liberation Sans", "titleFontSize": 22, "titleFontWeight": "normal", "titleColor": "#222"},
    "axisLeft": {"labelPadding": 17},
    "axisBottom": {"labelPadding": 13},
    "axisTop": {"labels": false},
    "axisRight": {"labels": false}
  }
}
